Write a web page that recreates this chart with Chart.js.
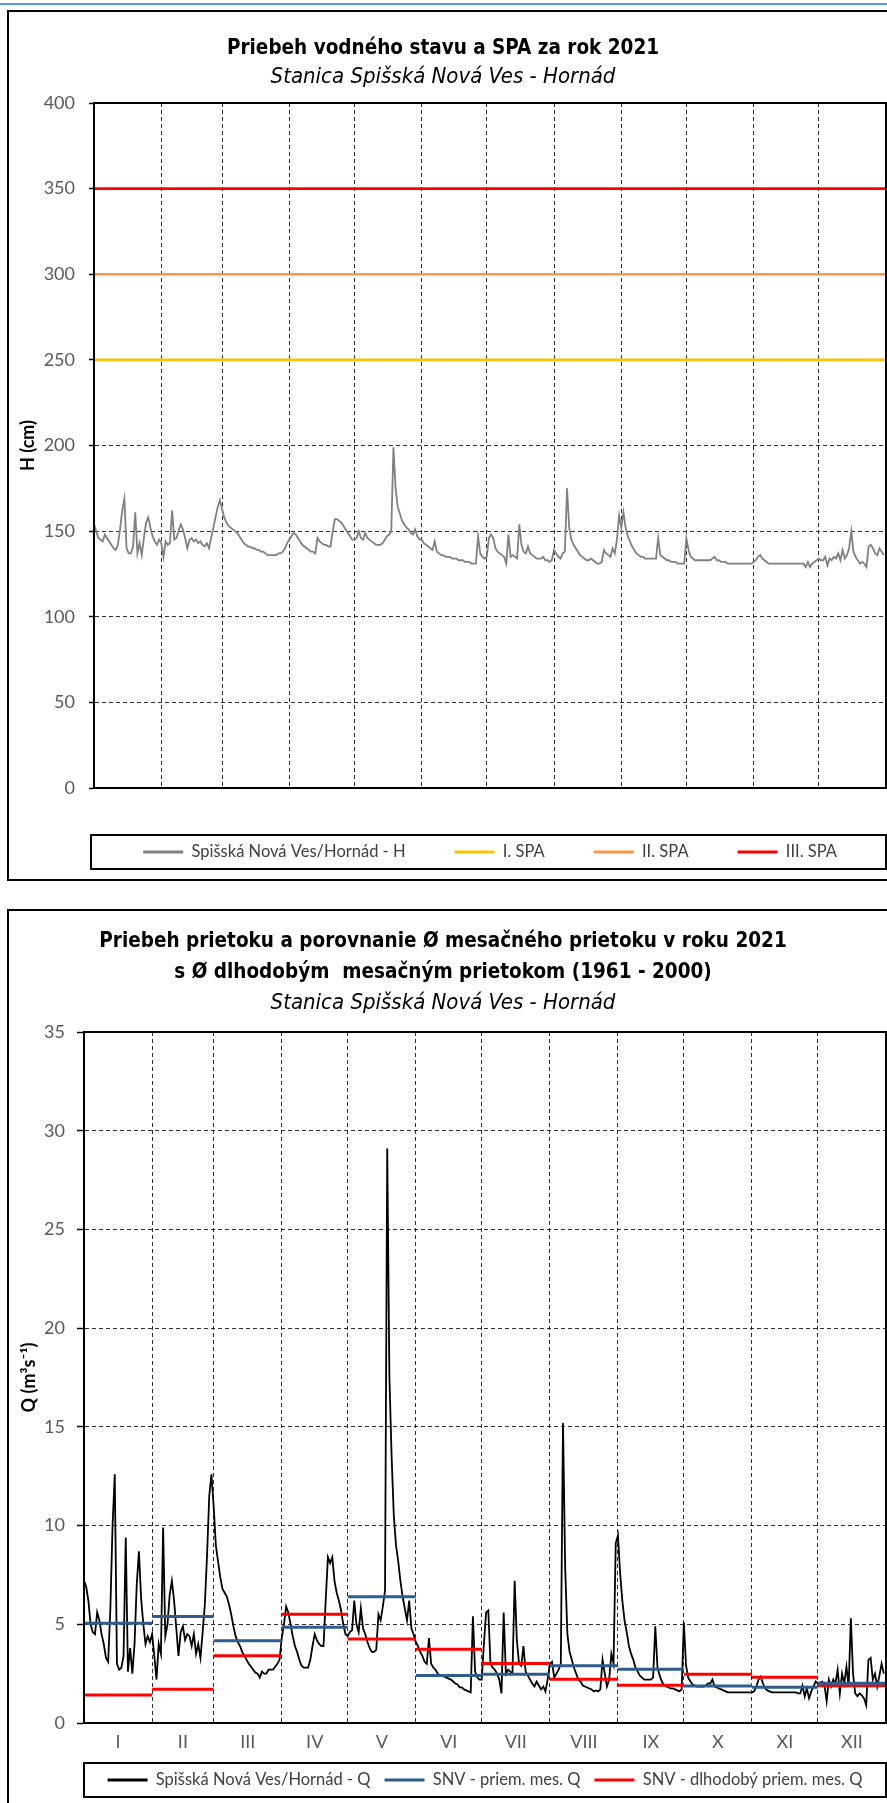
<!DOCTYPE html>
<html>
<head>
<meta charset="utf-8">
<script src="https://cdn.jsdelivr.net/npm/chart.js@4.4.1/dist/chart.umd.min.js"></script>
<style>
  html, body { margin:0; padding:0; background:#fff; }
  body { width:887px; height:1803px; overflow:hidden; position:relative; }
  #topline { position:absolute; left:0; top:3px; width:887px; height:2px; background:#5B9BD5; }
  .box { position:absolute; border:2px solid #000; box-sizing:border-box; }
  #box1 { left:7px; top:10px; width:940px; height:871px; }
  #box2 { left:7px; top:909px; width:940px; height:920px; }
  canvas { position:absolute; left:0; }
  #c1 { top:0; }
  #c2 { top:900px; }
</style>
</head>
<body>
<div id="topline"></div>
<div class="box" id="box1"></div>
<div class="box" id="box2"></div>
<canvas id="c1" width="910" height="880"></canvas>
<canvas id="c2" width="910" height="903"></canvas>
<script>
// ---------------- DATA ----------------
const monthLabels = ['I','II','III','IV','V','VI','VII','VIII','IX','X','XI','XII'];
const monthDays = [31,28,31,30,31,30,31,31,30,31,30,31];

// Daily water level H (cm), 2021
const H_I   = [154,150,146,145,144,148,146,144,142,140,139,142,151,162,169,140,137,137,141,161,137,143,136,146,155,158,152,147,144,142,145];
const H_II  = [143,135,144,142,143,162,145,146,150,154,151,146,140,145,146,144,145,143,144,142,141,143,140,146,152,158,164,168];
const H_III = [163,158,155,153,152,151,150,149,147,145,143,142,141,141,140,140,139,139,138,138,137,136,136,136,136,136,137,137,138,140,143];
const H_IV  = [145,147,149,148,146,144,142,141,140,139,138,138,137,146,144,143,142,142,141,141,150,157,157,156,155,153,151,149,147,145];
const H_V   = [145,146,150,146,145,149,146,145,144,143,142,142,142,143,145,147,148,150,199,175,164,160,156,154,152,151,149,148,151,147,145];
const H_VI  = [145,143,142,141,140,139,144,138,137,136,136,135,135,135,134,134,134,133,133,133,132,132,132,131,131,131,147,137,135,134];
const H_VII = [135,146,148,146,140,138,137,136,135,131,148,135,136,135,134,154,142,138,137,141,137,136,135,134,134,134,135,133,133,132,133];
const H_VIII= [139,137,135,134,137,138,175,152,145,142,140,138,136,135,134,133,133,134,133,132,131,131,132,139,137,136,135,140,137,145,159];
const H_IX  = [152,161,152,147,144,141,139,137,136,135,135,134,134,134,134,134,134,146,136,135,134,133,133,132,132,132,131,131,131,131];
const H_X   = [146,139,135,134,133,133,133,133,133,133,133,133,134,135,133,133,132,132,132,131,131,131,131,131,131,131,131,131,131,131,131];
const H_XI  = [132,133,135,136,134,133,132,131,131,131,131,131,131,131,131,131,131,131,131,131,131,131,131,131,129,132,129,131,132,133];
const H_XII = [134,133,133,135,130,134,133,135,134,137,133,139,134,136,140,150,138,135,133,131,132,131,129,141,142,140,137,136,140,138,136];

// Flood activity levels (SPA)
const spaLabels = ['I. SPA','II. SPA','III. SPA'];
const spaLevels = [250, 300, 350];

// Daily discharge Q (m3/s), 2021
const Q_I   = [7.2,6.9,6.2,5.0,4.6,4.5,5.6,5.2,4.5,4.0,3.3,3.1,5.8,10.0,12.6,3.0,2.7,2.8,3.4,9.4,2.6,3.8,2.5,4.0,7.0,8.7,6.3,5.0,4.0,4.4,4.1];
const Q_II  = [4.5,3.4,2.2,4.0,3.5,9.9,4.4,5.0,6.5,7.2,6.2,4.8,3.4,4.6,4.9,4.2,4.5,4.4,3.9,4.5,3.5,4.0,3.3,4.6,6.0,8.5,11.5,12.6];
const Q_III = [11.0,9.0,8.2,7.4,6.8,6.6,6.4,6.0,5.5,4.9,4.4,4.1,3.9,3.6,3.4,3.2,3.0,2.85,2.7,2.55,2.5,2.3,2.6,2.5,2.5,2.7,2.7,2.7,2.85,3.0,3.2];
const Q_IV  = [4.3,5.0,5.9,5.6,5.0,4.4,3.9,3.6,3.2,2.9,2.8,2.8,2.8,3.2,3.9,4.5,4.2,4.0,3.9,3.9,6.2,8.4,8.1,8.4,7.2,6.6,6.2,5.7,5.0,4.5];
const Q_V   = [4.4,4.6,4.7,6.2,5.0,4.6,5.8,4.8,4.5,4.1,3.8,3.6,3.6,3.7,5.5,5.2,5.9,6.7,29.1,17.5,13.5,10.5,9.0,8.2,7.2,6.4,5.8,5.2,6.2,4.8,4.5];
const Q_VI  = [4.1,3.9,3.6,3.4,3.1,3.0,4.3,3.0,2.8,2.7,2.5,2.4,2.4,2.35,2.3,2.25,2.2,2.1,2.0,1.95,1.8,1.8,1.7,1.65,1.6,1.55,5.4,2.6,2.3,2.2];
const Q_VII = [2.2,4.0,5.6,5.7,3.0,2.8,2.7,2.5,2.2,1.5,5.6,2.5,2.7,2.6,2.5,7.2,4.2,3.0,2.9,3.9,2.6,2.4,2.2,2.0,1.85,2.1,1.9,1.7,1.85,1.6,2.2];
const Q_VIII= [3.0,3.1,2.3,2.5,2.7,3.0,15.2,7.8,4.5,3.6,3.2,2.8,2.5,2.2,2.1,1.9,1.85,1.8,1.75,1.7,1.6,1.65,1.6,1.7,3.2,2.5,1.85,2.2,3.5,3.0,9.1];
const Q_IX  = [9.5,7.6,6.2,5.2,4.6,3.9,3.5,3.2,2.8,2.6,2.4,2.3,2.2,2.2,2.2,2.2,2.3,4.9,2.8,2.4,2.1,1.9,1.85,1.8,1.75,1.75,1.7,1.65,1.6,1.7];
const Q_X   = [5.1,2.9,2.3,2.1,1.95,1.9,1.85,1.85,1.85,1.85,1.9,2.0,2.0,2.2,1.85,1.8,1.75,1.7,1.65,1.6,1.55,1.55,1.55,1.55,1.55,1.55,1.55,1.55,1.55,1.55,1.55];
const Q_XI  = [1.55,1.6,1.85,2.2,2.35,2.0,1.75,1.65,1.6,1.55,1.55,1.55,1.55,1.55,1.55,1.55,1.55,1.55,1.55,1.55,1.55,1.5,1.5,1.9,1.35,1.75,1.25,1.6,1.85,2.1];
const Q_XII = [2.0,2.05,2.1,1.9,1.1,2.2,1.85,2.2,2.0,2.7,1.5,2.5,2.0,2.85,1.85,5.3,2.5,1.5,1.35,1.5,1.4,1.25,0.9,3.2,3.3,2.2,2.5,1.85,2.4,3.0,2.5];

// Monthly mean discharge 2021 and long-term (1961-2000) monthly mean
const qMean2021 = [5.05,5.39,4.17,4.85,6.40,2.40,2.47,2.90,2.72,1.87,1.81,2.01];
const qMeanLong = [1.42,1.71,3.41,5.51,4.26,3.73,3.02,2.21,1.91,2.47,2.32,1.89];

// Axis ranges
const hAxis = {min:0, max:400, step:50};
const qAxis = {min:0, max:35, step:5};

// ---------------- BUILD ----------------
const hDaily = [].concat(H_I,H_II,H_III,H_IV,H_V,H_VI,H_VII,H_VIII,H_IX,H_X,H_XI,H_XII);
const qDaily = [].concat(Q_I,Q_II,Q_III,Q_IV,Q_V,Q_VI,Q_VII,Q_VIII,Q_IX,Q_X,Q_XI,Q_XII);
const monthBounds = [0];
monthDays.forEach(d => monthBounds.push(monthBounds[monthBounds.length-1] + d));
const yearEnd = monthBounds[monthBounds.length-1];
const monthMids = monthLabels.map((_, i) => (monthBounds[i] + monthBounds[i+1]) / 2);
const xTickValues = monthBounds.concat(monthMids).sort((a,b) => a-b);

const toXY = arr => arr.map((v,i) => ({x:i, y:v}));
const monthSegments = vals => {
  const out = [];
  vals.forEach((v,i) => {
    out.push({x:monthBounds[i], y:v}, {x:monthBounds[i+1], y:v}, {x:monthBounds[i+1], y:null});
  });
  return out;
};

const TICK_COLOR = '#595959';
const GRID = '#303030';
const SANS = "Lato, 'Open Sans', sans-serif";
const TITLE_FAMILY = "'DejaVu Sans Condensed', 'Liberation Sans Narrow', Roboto, sans-serif";
const TICK_FONT = {family:SANS, size:18};
const LEGEND_FONT = {family:SANS, size:16.5};
const clear = 'rgba(0,0,0,0)';

function xScale(pad, height) {
  return {
    type:'linear', min:0, max:yearEnd,
    afterBuildTicks: s => { s.ticks = xTickValues.map(v => ({value:v})); },
    ticks:{ autoSkip:false, maxRotation:0, minRotation:0, padding:pad, color:TICK_COLOR, font:TICK_FONT,
      callback: v => { const i = monthMids.indexOf(v); return i >= 0 ? monthLabels[i] : ''; } },
    grid:{ drawTicks:false, lineWidth:1,
      color: c => (c.tick && monthBounds.includes(c.tick.value) && c.tick.value > 0 && c.tick.value < yearEnd) ? GRID : clear },
    border:{ display:true, color:'#000', width:2, dash:[4,3] },
    afterFit: s => { s.height = height; }
  };
}
function yScale(ax, width, tickLen, pad, titleText, titlePad) {
  return {
    min:ax.min, max:ax.max,
    ticks:{ stepSize:ax.step, padding:pad, color:TICK_COLOR, font:TICK_FONT },
    grid:{ lineWidth:1, tickLength:tickLen, tickColor:'#000', tickWidth:1.5,
      color: c => (c.tick && c.tick.value > ax.min && c.tick.value < ax.max) ? GRID : clear },
    border:{ display:true, color:'#000', width:2, dash:[4,3] },
    title:{ display:true, text:titleText, color:'#000', font:{family:SANS, size:18, weight:'bold'}, padding:{top:titlePad, bottom:0} },
    afterFit: s => { s.width = width; }
  };
}
const legendLabels = (pad) => ({
  boxWidth:40, boxHeight:3, padding:pad, color:'#404040', font:LEGEND_FONT,
  sort: (a, b) => a.datasetIndex - b.datasetIndex,
  generateLabels: chart => Chart.defaults.plugins.legend.labels.generateLabels(chart)
      .map(it => Object.assign(it, {fillStyle: it.strokeStyle, lineWidth: 0}))
});

const framePlugin = {
  id:'frame',
  afterDraw(chart, args, o) {
    const {ctx, chartArea:a, legend:l} = chart;
    ctx.save();
    ctx.strokeStyle = '#000';
    ctx.lineWidth = 2;
    ctx.strokeRect(a.left, a.top, a.right - a.left, a.bottom - a.top);
    const cy = l.top + o.pad + o.fs / 2;
    ctx.strokeRect(a.left - o.extraLeft, cy - 17, a.right - a.left + o.extraLeft, 34);
    ctx.restore();
  }
};

// ---------------- CHART 1 ----------------
new Chart(document.getElementById('c1'), {
  type:'line',
  data:{ datasets:[
    {label:'Spišská Nová Ves/Hornád - H', data:toXY(hDaily), borderColor:'#808080', borderWidth:1.8, pointRadius:0, tension:0},
    {label:spaLabels[0], data:[{x:0,y:spaLevels[0]},{x:yearEnd,y:spaLevels[0]}], borderColor:'#FFC000', borderWidth:2.6, pointRadius:0},
    {label:spaLabels[1], data:[{x:0,y:spaLevels[1]},{x:yearEnd,y:spaLevels[1]}], borderColor:'#F79646', borderWidth:2.6, pointRadius:0},
    {label:spaLabels[2], data:[{x:0,y:spaLevels[2]},{x:yearEnd,y:spaLevels[2]}], borderColor:'#FF0000', borderWidth:2.6, pointRadius:0}
  ]},
  options:{
    responsive:false, animation:false, events:[],
    layout:{ padding:{left:0, right:24, top:0, bottom:9.75} },
    scales:{ x:xScale(11.2, 6.75), y:yScale(hAxis, 94, 5, 14, 'H (cm)', 17.4) },
    plugins:{
      title:{ display:true, text:'Priebeh vodného stavu a SPA za rok 2021', color:'#000',
        font:{family:TITLE_FAMILY, size:20.5, weight:'bold', lineHeight:'24px'}, padding:{top:37, bottom:0} },
      subtitle:{ display:true, text:'Stanica Spišská Nová Ves - Hornád', color:'#000',
        font:{family:TITLE_FAMILY, size:22, style:'italic', lineHeight:'22px'}, padding:{top:5, bottom:15} },
      legend:{ position:'bottom', fullSize:true, align:'end', labels:legendLabels(49) },
      tooltip:{ enabled:false },
      frame:{ pad:49, fs:16.5, extraLeft:3 }
    }
  },
  plugins:[framePlugin]
});

// ---------------- CHART 2 ----------------
new Chart(document.getElementById('c2'), {
  type:'line',
  data:{ datasets:[
    {label:'Spišská Nová Ves/Hornád - Q', data:toXY(qDaily), borderColor:'#000000', borderWidth:1.8, pointRadius:0, tension:0, order:3},
    {label:'SNV - priem. mes. Q', data:monthSegments(qMean2021), borderColor:'#2F5B8F', borderWidth:3, pointRadius:0, order:1},
    {label:'SNV - dlhodobý priem. mes. Q', data:monthSegments(qMeanLong), borderColor:'#FF0000', borderWidth:3, pointRadius:0, order:2}
  ]},
  options:{
    responsive:false, animation:false, events:[],
    layout:{ padding:{left:0, right:24, top:0, bottom:4.75} },
    scales:{ x:xScale(8.2, 34.75), y:yScale(qAxis, 84, 7, 12, 'Q (m³s⁻¹)', 18.4) },
    plugins:{
      title:{ display:true, text:['Priebeh prietoku a porovnanie Ø mesačného prietoku v roku 2021', 's Ø dlhodobým  mesačným prietokom (1961 - 2000)'], color:'#000',
        font:{family:TITLE_FAMILY, size:20.5, weight:'bold', lineHeight:'31px'}, padding:{top:26.5, bottom:0} },
      subtitle:{ display:true, text:'Stanica Spišská Nová Ves - Hornád', color:'#000',
        font:{family:TITLE_FAMILY, size:22, style:'italic', lineHeight:'22px'}, padding:{top:3.5, bottom:18} },
      legend:{ position:'bottom', fullSize:false, align:'center', labels:legendLabels(14) },
      tooltip:{ enabled:false },
      frame:{ pad:14, fs:16.5, extraLeft:0 }
    }
  },
  plugins:[framePlugin]
});
</script>
</body>
</html>
